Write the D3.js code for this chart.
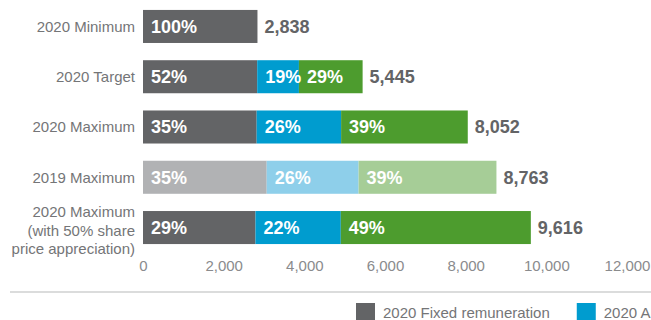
<!DOCTYPE html>
<html>
<head>
<meta charset="utf-8">
<script src="https://cdn.jsdelivr.net/npm/d3@7"></script>
<style>
  html, body { margin: 0; padding: 0; background: #fff; }
  svg { display: block; font-family: "Liberation Sans", Arial, Helvetica, sans-serif; }
</style>
</head>
<body>
<svg id="chart" width="651" height="320"></svg>
<script>
// Remuneration scenarios (£000) and the share of each component
const scenarios = [
  ["2020 Minimum"],
  ["2020 Target"],
  ["2020 Maximum"],
  ["2019 Maximum"],
  ["2020 Maximum", "(with 50% share", "price appreciation)"]
];
const totals = [2838, 5445, 8052, 8763, 9616];
const fixedPct = [100, 52, 35, 35, 29];
const bonusPct = [0, 19, 26, 26, 22];
const ltipPct = [0, 29, 39, 39, 49];
const priorYear = [false, false, false, true, false];
const xTicks = [0, 2000, 4000, 6000, 8000, 10000, 12000];
const legendLabels = ["2020 Fixed remuneration", "2020 Annual bonus"];

const colours = {
  current: ["#636466", "#009ccf", "#4d9c2e"],
  prior: ["#b1b2b4", "#8ecfea", "#a6cd97"]
};

const svg = d3.select("#chart");
const x = d3.scaleLinear().domain([0, 12000]).range([143, 627]);
const y = d3.scaleBand()
  .domain(d3.range(scenarios.length))
  .range([1.4, 252.6])
  .paddingInner(0.343)
  .paddingOuter(0.17);

// Build stacked segments per scenario
const rows = scenarios.map((lines, i) => {
  const pcts = [fixedPct[i], bonusPct[i], ltipPct[i]];
  let acc = 0;
  const segs = pcts.map((p, k) => {
    const v = totals[i] * p / 100;
    const s = { k, p, x0: acc, x1: acc + v };
    acc += v;
    return s;
  }).filter(s => s.p > 0);
  return { i, lines, total: totals[i], segs, prior: priorYear[i] };
});

const rowG = svg.selectAll("g.row").data(rows).join("g")
  .attr("class", "row")
  .attr("transform", d => `translate(0,${y(d.i)})`);

const bh = y.bandwidth();

rowG.selectAll("rect").data(d => d.segs.map(s => ({ ...s, prior: d.prior }))).join("rect")
  .attr("x", s => x(s.x0))
  .attr("width", s => x(s.x1) - x(s.x0))
  .attr("y", 0)
  .attr("height", bh)
  .attr("fill", s => (s.prior ? colours.prior : colours.current)[s.k]);

rowG.selectAll("text.pct").data(d => d.segs).join("text")
  .attr("class", "pct")
  .attr("x", s => x(s.x0) + 8)
  .attr("y", bh / 2)
  .attr("dy", "0.36em")
  .attr("fill", "#fff")
  .attr("font-weight", "bold")
  .attr("font-size", 18)
  .text(s => s.p + "%");

rowG.append("text")
  .attr("class", "total")
  .attr("x", d => x(d.total) + 7)
  .attr("y", bh / 2)
  .attr("dy", "0.36em")
  .attr("fill", "#636466")
  .attr("font-weight", "bold")
  .attr("font-size", 18)
  .text(d => d3.format(",")(d.total));

// Category labels (right aligned, multi-line where needed)
rowG.append("text")
  .attr("class", "cat")
  .attr("text-anchor", "end")
  .attr("fill", "#747577")
  .attr("font-size", 15)
  .each(function (d) {
    const n = d.lines.length;
    const lh = 18.5;
    const t = d3.select(this);
    d.lines.forEach((line, j) => {
      t.append("tspan")
        .attr("x", 135)
        .attr("y", bh / 2 + (j - (n - 1) / 2) * lh + (n > 1 ? 3 : 0))
        .attr("dy", "0.35em")
        .text(line);
    });
  });

// Value axis
const axis = svg.append("g")
  .attr("transform", "translate(0,260)")
  .call(d3.axisBottom(x).tickValues(xTicks).tickFormat(d3.format(",")).tickSize(0).tickPadding(0));
axis.select(".domain").remove();
axis.selectAll("text")
  .attr("font-size", 15)
  .attr("font-family", "Liberation Sans, Arial, sans-serif")
  .attr("fill", "#8a8b8d")
  .attr("dy", "0.71em");

// Divider above legend
svg.append("line")
  .attr("x1", 10).attr("x2", 651)
  .attr("y1", 292).attr("y2", 292)
  .attr("stroke", "#cfd0d1")
  .attr("stroke-width", 1.5);

// Legend
const legend = svg.append("g").attr("transform", "translate(356,303)");
let lx = 0;
legendLabels.forEach((label, k) => {
  const g = legend.append("g").attr("transform", `translate(${lx},0)`);
  g.append("rect").attr("width", 19).attr("height", 19).attr("fill", colours.current[k]);
  const t = g.append("text")
    .attr("x", 27).attr("y", 9.5).attr("dy", "0.36em")
    .attr("font-size", 15).attr("fill", "#747577")
    .text(label);
  lx += 27 + t.node().getComputedTextLength() + 27;
});
</script>
</body>
</html>
